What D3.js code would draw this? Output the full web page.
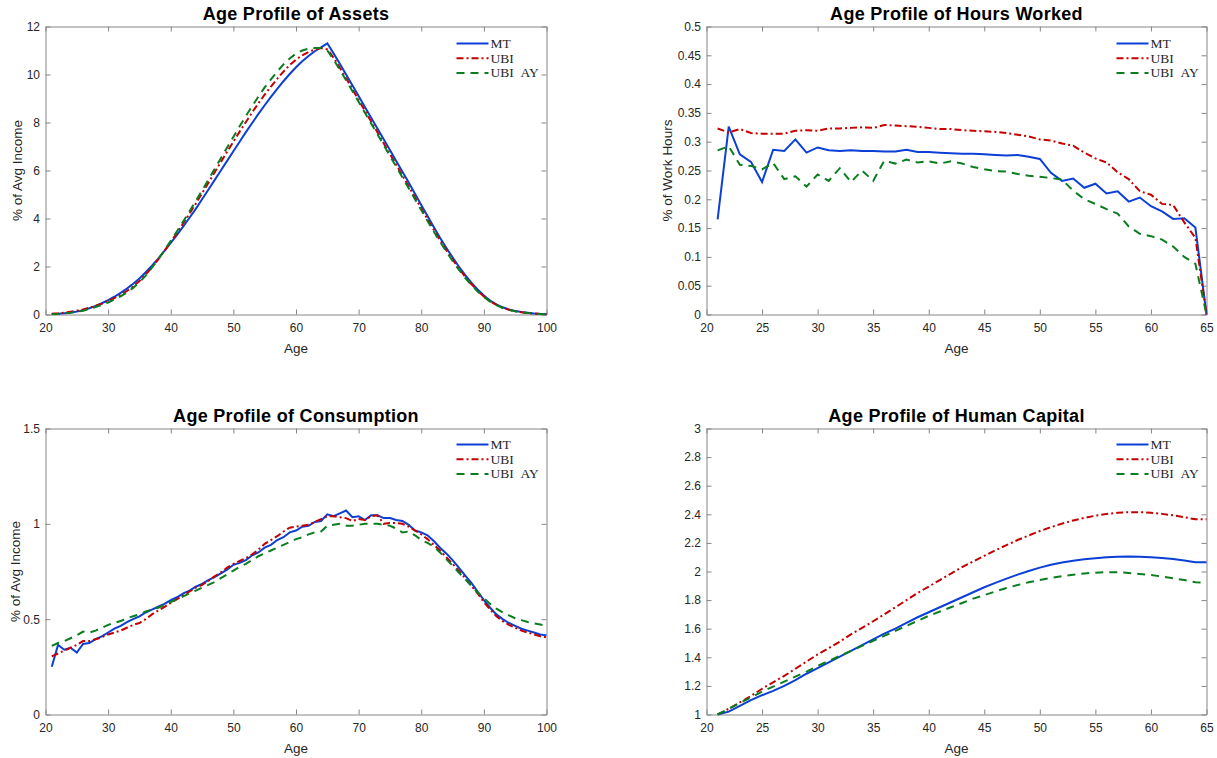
<!DOCTYPE html>
<meta charset="utf-8">
<script src="https://d3js.org/d3.v7.min.js"></script>
<style>
body { margin: 0; background: #fff; }
svg { font-family: "Liberation Sans", Arial, sans-serif; }
.tick text { fill: #262626; font-size: 12px; }
.title { font-weight: bold; font-size: 18px; letter-spacing: 0.3px; fill: #000; }
.axlabel { font-size: 13.5px; fill: #262626; }
.legend text { font-family: "Liberation Serif", "Times New Roman", serif; font-size: 13.5px; fill: #262626; }
</style>
<body></body>
<script>

// ---- data ----

var seriesNames = ["MT", "UBI", "UBI AY"];

// ages 21..100 (assets, consumption) and 21..65 (hours, human capital)
var agesLong = [21,22,23,24,25,26,27,28,29,30,31,32,33,34,35,36,37,38,39,40,
  41,42,43,44,45,46,47,48,49,50,51,52,53,54,55,56,57,58,59,60,
  61,62,63,64,65,66,67,68,69,70,71,72,73,74,75,76,77,78,79,80,
  81,82,83,84,85,86,87,88,89,90,91,92,93,94,95,96,97,98,99,100];
var agesShort = [21,22,23,24,25,26,27,28,29,30,31,32,33,34,35,36,37,38,39,40,
  41,42,43,44,45,46,47,48,49,50,51,52,53,54,55,56,57,58,59,60,
  61,62,63,64,65];

var assetsMT = [0.02,0.03,0.05,0.08,0.12,0.18,0.26,0.36,0.47,0.6,
  0.74,0.9,1.08,1.28,1.5,1.76,2.03,2.33,2.65,2.98,
  3.32,3.67,4.03,4.4,4.8,5.2,5.6,6.0,6.4,6.8,
  7.2,7.6,7.98,8.36,8.72,9.07,9.4,9.72,10.02,10.3,
  10.55,10.77,10.97,11.13,11.3,10.88,10.45,10.0,9.55,9.1,
  8.65,8.2,7.75,7.3,6.85,6.4,5.95,5.5,5.03,4.56,
  4.1,3.65,3.2,2.78,2.38,2.0,1.65,1.33,1.04,0.79,
  0.58,0.42,0.3,0.21,0.15,0.1,0.07,0.04,0.02,0.01];
var assetsUBI = [0.03,0.05,0.08,0.12,0.16,0.21,0.28,0.36,0.45,0.56,
  0.68,0.82,0.98,1.17,1.4,1.66,1.97,2.3,2.65,3.02,
  3.4,3.8,4.2,4.62,5.05,5.48,5.92,6.35,6.78,7.2,
  7.62,8.02,8.42,8.8,9.16,9.5,9.82,10.12,10.4,10.62,
  10.8,10.94,11.04,11.1,11.05,10.7,10.28,9.84,9.39,8.94,
  8.49,8.04,7.59,7.14,6.69,6.24,5.79,5.34,4.88,4.42,
  3.97,3.53,3.1,2.68,2.29,1.92,1.58,1.27,0.99,0.75,
  0.55,0.4,0.28,0.2,0.14,0.09,0.06,0.04,0.02,0.01];
var assetsAY = [0.01,0.02,0.04,0.07,0.11,0.16,0.23,0.31,0.4,0.5,
  0.62,0.76,0.92,1.11,1.34,1.62,1.95,2.3,2.68,3.07,
  3.47,3.88,4.3,4.73,5.17,5.61,6.06,6.51,6.96,7.4,
  7.84,8.27,8.68,9.08,9.46,9.8,10.12,10.42,10.67,10.87,
  11.0,11.08,11.1,11.1,11.0,10.62,10.2,9.76,9.31,8.86,
  8.41,7.96,7.51,7.06,6.61,6.16,5.71,5.26,4.8,4.35,
  3.9,3.46,3.03,2.62,2.23,1.87,1.53,1.23,0.96,0.73,
  0.54,0.39,0.27,0.19,0.13,0.09,0.06,0.04,0.02,0.01];

var hoursMT = [0.165,0.326,0.278,0.265,0.23,0.286,0.284,0.304,0.281,0.29,
  0.285,0.284,0.285,0.284,0.284,0.283,0.283,0.286,0.282,0.282,
  0.281,0.28,0.279,0.279,0.278,0.277,0.276,0.277,0.274,0.27,
  0.246,0.232,0.236,0.22,0.227,0.21,0.214,0.196,0.203,0.188,
  0.179,0.166,0.167,0.151,0.0];
var hoursUBI = [0.323,0.316,0.322,0.315,0.314,0.314,0.314,0.319,0.32,0.319,
  0.323,0.323,0.324,0.325,0.324,0.329,0.328,0.327,0.326,0.324,
  0.322,0.322,0.32,0.319,0.318,0.317,0.315,0.312,0.309,0.304,
  0.302,0.297,0.293,0.281,0.271,0.264,0.247,0.235,0.214,0.208,
  0.192,0.19,0.16,0.133,0.0];
var hoursAY = [0.285,0.292,0.26,0.258,0.252,0.263,0.235,0.24,0.222,0.243,
  0.232,0.254,0.23,0.25,0.232,0.267,0.262,0.269,0.264,0.266,
  0.262,0.266,0.262,0.256,0.252,0.249,0.248,0.244,0.241,0.239,
  0.237,0.234,0.215,0.2,0.192,0.183,0.175,0.153,0.14,0.136,
  0.13,0.118,0.1,0.088,0.0];

var consMT = [0.25,0.365,0.34,0.35,0.325,0.37,0.375,0.395,0.41,0.43,
  0.45,0.465,0.485,0.5,0.515,0.535,0.55,0.565,0.58,0.6,
  0.615,0.635,0.65,0.67,0.685,0.705,0.72,0.74,0.76,0.785,
  0.795,0.81,0.835,0.85,0.875,0.89,0.915,0.93,0.955,0.965,
  0.985,0.99,1.01,1.015,1.05,1.04,1.055,1.07,1.035,1.04,
  1.02,1.045,1.045,1.03,1.03,1.02,1.015,0.995,0.965,0.955,
  0.94,0.91,0.875,0.845,0.81,0.77,0.73,0.69,0.645,0.6,
  0.56,0.525,0.5,0.48,0.465,0.45,0.44,0.43,0.42,0.415];
var consUBI = [0.305,0.32,0.335,0.35,0.365,0.385,0.385,0.395,0.405,0.42,
  0.43,0.44,0.455,0.47,0.48,0.5,0.525,0.545,0.565,0.585,
  0.605,0.625,0.645,0.665,0.68,0.7,0.725,0.745,0.77,0.79,
  0.805,0.82,0.84,0.865,0.895,0.915,0.935,0.96,0.98,0.985,
  0.99,0.995,1.01,1.025,1.04,1.04,1.035,1.03,1.015,1.025,
  1.02,1.04,1.045,1.0,1.005,1.005,1.0,0.985,0.965,0.945,
  0.92,0.89,0.86,0.825,0.79,0.755,0.715,0.675,0.635,0.59,
  0.55,0.515,0.49,0.47,0.455,0.44,0.43,0.42,0.41,0.405];
var consAY = [0.36,0.375,0.385,0.4,0.415,0.435,0.43,0.44,0.455,0.47,
  0.48,0.49,0.505,0.515,0.525,0.54,0.55,0.56,0.575,0.59,
  0.605,0.62,0.635,0.65,0.665,0.68,0.695,0.715,0.735,0.755,
  0.775,0.79,0.81,0.83,0.845,0.86,0.875,0.89,0.905,0.92,
  0.93,0.945,0.955,0.96,0.99,0.995,1.0,0.99,0.99,0.995,
  1.0,1.0,1.0,0.995,0.99,0.975,0.955,0.96,0.94,0.915,
  0.9,0.88,0.85,0.815,0.78,0.745,0.71,0.675,0.64,0.61,
  0.58,0.555,0.535,0.52,0.505,0.495,0.485,0.478,0.472,0.465];

var hcMT = [1.0,1.02,1.06,1.1,1.135,1.165,1.2,1.24,1.285,1.325,
  1.365,1.405,1.445,1.485,1.525,1.565,1.6,1.64,1.68,1.715,
  1.75,1.785,1.82,1.855,1.89,1.92,1.95,1.978,2.003,2.027,
  2.047,2.063,2.075,2.085,2.093,2.099,2.103,2.105,2.103,2.1,
  2.095,2.087,2.077,2.065,2.065];
var hcUBI = [1.0,1.04,1.085,1.13,1.18,1.225,1.27,1.32,1.37,1.42,
  1.465,1.51,1.56,1.605,1.652,1.7,1.75,1.8,1.85,1.895,
  1.94,1.985,2.03,2.07,2.11,2.148,2.185,2.22,2.252,2.283,
  2.31,2.335,2.357,2.375,2.39,2.402,2.41,2.415,2.415,2.41,
  2.403,2.393,2.38,2.365,2.365];
var hcAY = [1.0,1.04,1.08,1.12,1.16,1.195,1.23,1.265,1.3,1.34,
  1.375,1.41,1.445,1.48,1.515,1.55,1.585,1.62,1.655,1.69,
  1.72,1.75,1.78,1.81,1.835,1.86,1.885,1.905,1.925,1.94,
  1.955,1.968,1.978,1.986,1.992,1.995,1.995,1.99,1.983,1.975,
  1.965,1.953,1.94,1.925,1.922];

// tick values
var ticksAgeLong = [20,30,40,50,60,70,80,90,100];
var ticksAgeShort = [20,25,30,35,40,45,50,55,60,65];
var ticksAssets = [0,2,4,6,8,10,12];
var ticksHours = [0,0.05,0.1,0.15,0.2,0.25,0.3,0.35,0.4,0.45,0.5];
var ticksCons = [0,0.5,1,1.5];
var ticksHC = [1,1.2,1.4,1.6,1.8,2,2.2,2.4,2.6,2.8,3];

// ---- styles ----
var colors = ["#0b3fd6", "#c40000", "#0a7d1e"];
var dashes = [null, "7,3,2,3", "8,6"];

var svg = d3.select("body").append("svg")
    .attr("width", 1217)
    .attr("height", 758);

var fmt = d => String(+d.toFixed(2));

function panel(opt) {
  var w = opt.right - opt.left,
      h = opt.bottom - opt.top;

  var g = svg.append("g")
      .attr("transform", `translate(${opt.left},${opt.top})`);

  var x = d3.scaleLinear().domain(opt.xDomain).range([0, w]);
  var y = d3.scaleLinear().domain(opt.yDomain).range([h, 0]);

  var clipId = "clip" + opt.id;
  g.append("clipPath").attr("id", clipId)
    .append("rect").attr("x", -1).attr("y", -1).attr("width", w + 2).attr("height", h + 2);

  // axes with inward ticks, box on
  var axes = [
    {ax: d3.axisBottom(x).tickValues(opt.xTicks).tickFormat(fmt), tr: `translate(0,${h})`, pad: 9},
    {ax: d3.axisTop(x).tickValues(opt.xTicks).tickFormat(""), tr: "translate(0,0)", pad: 5},
    {ax: d3.axisLeft(y).tickValues(opt.yTicks).tickFormat(fmt), tr: "translate(0,0)", pad: 5.5},
    {ax: d3.axisRight(y).tickValues(opt.yTicks).tickFormat(""), tr: `translate(${w},0)`, pad: 5}
  ];
  axes.forEach(function(a) {
    var ag = g.append("g").attr("transform", a.tr)
      .call(a.ax.tickSizeInner(-5).tickSizeOuter(0).tickPadding(a.pad));
    ag.select(".domain").attr("stroke", "#868686");
    ag.selectAll(".tick line").attr("stroke", "#868686");
  });

  // lines
  var line = d3.line()
    .x((d, i) => x(opt.ages[i]))
    .y(d => y(d));

  opt.series.forEach(function(s, i) {
    g.append("path")
      .datum(s)
      .attr("clip-path", `url(#${clipId})`)
      .attr("fill", "none")
      .attr("stroke", colors[i])
      .attr("stroke-width", 2)
      .attr("stroke-dasharray", dashes[i])
      .attr("d", line);
  });

  // legend
  var lg = g.append("g").attr("class", "legend")
      .attr("transform", `translate(${w - 90},${opt.legendTop})`);
  seriesNames.forEach(function(n, i) {
    lg.append("line")
      .attr("x1", 0).attr("x2", 32)
      .attr("y1", i * 14.7).attr("y2", i * 14.7)
      .attr("stroke", colors[i])
      .attr("stroke-width", 2)
      .attr("stroke-dasharray", dashes[i]);
    lg.append("text")
      .attr("x", 34).attr("y", i * 14.7 + 4.5)
      .text(n.replace(" ", "\u2002"));
  });

  // titles
  g.append("text").attr("class", "title")
    .attr("x", w / 2).attr("y", -7)
    .attr("text-anchor", "middle")
    .text(opt.title);

  g.append("text").attr("class", "axlabel")
    .attr("x", w / 2).attr("y", h + 38)
    .attr("text-anchor", "middle")
    .text("Age");

  if (opt.yLabel) {
    g.append("text").attr("class", "axlabel")
      .attr("transform", `translate(${opt.yLabelX},${h / 2}) rotate(-90)`)
      .attr("text-anchor", "middle")
      .text(opt.yLabel);
  }
}

panel({id: 1, left: 45.5, right: 546.5, top: 26.5, bottom: 314.5,
  title: "Age Profile of Assets", yLabel: "% of Avg Income", yLabelX: -24,
  xDomain: [20, 100], yDomain: [0, 12], xTicks: ticksAgeLong, yTicks: ticksAssets,
  ages: agesLong, series: [assetsMT, assetsUBI, assetsAY], legendTop: 17});

panel({id: 2, left: 706.5, right: 1206.5, top: 26.5, bottom: 314.5,
  title: "Age Profile of Hours Worked", yLabel: "% of Work Hours", yLabelX: -35,
  xDomain: [20, 65], yDomain: [0, 0.5], xTicks: ticksAgeShort, yTicks: ticksHours,
  ages: agesShort, series: [hoursMT, hoursUBI, hoursAY], legendTop: 17});

panel({id: 3, left: 45.5, right: 546.5, top: 428.5, bottom: 714.5,
  title: "Age Profile of Consumption", yLabel: "% of Avg Income", yLabelX: -26,
  xDomain: [20, 100], yDomain: [0, 1.5], xTicks: ticksAgeLong, yTicks: ticksCons,
  ages: agesLong, series: [consMT, consUBI, consAY], legendTop: 16});

panel({id: 4, left: 706.5, right: 1206.5, top: 428.5, bottom: 714.5,
  title: "Age Profile of Human Capital", yLabel: null,
  xDomain: [20, 65], yDomain: [1, 3], xTicks: ticksAgeShort, yTicks: ticksHC,
  ages: agesShort, series: [hcMT, hcUBI, hcAY], legendTop: 16});

</script>
